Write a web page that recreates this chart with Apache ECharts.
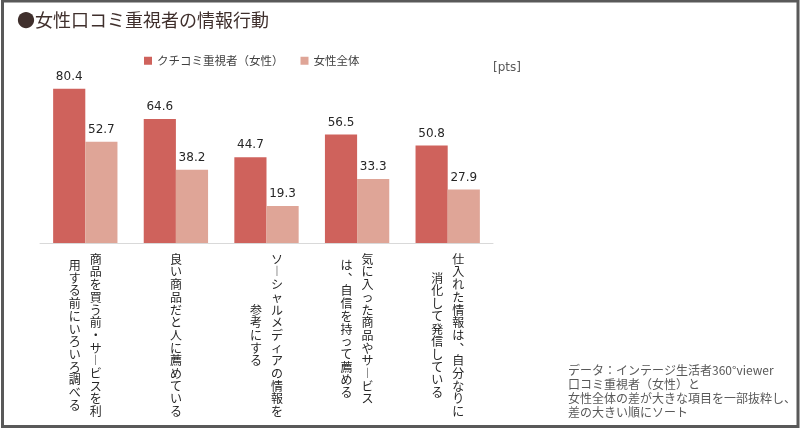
<!DOCTYPE html>
<html>
<head>
<meta charset="utf-8">
<script src="https://cdn.jsdelivr.net/npm/echarts@6/dist/echarts.min.js"></script>
<style>
  html, body { margin: 0; padding: 0; background: #fff; }
  #main { width: 800px; height: 431px; }
</style>
</head>
<body>
<div id="main"></div>
<script>
// カテゴリ（\n は縦書きの改列位置）
var categories = [
  '商品を買う前・サービスを利\n用する前にいろいろ調べる',
  '良い商品だと人に薦めている',
  'ソーシャルメディアの情報を\n参考にする',
  '気に入った商品やサービス\nは、自信を持って薦める',
  '仕入れた情報は、自分なりに\n消化して発信している'
];
var seriesNames = ['クチコミ重視者（女性）', '女性全体'];
var kuchikomi = [80.4, 64.6, 44.7, 56.5, 50.8];
var zentai = [52.7, 38.2, 19.3, 33.3, 27.9];
var noteLines = [
  'データ：インテージ生活者360°viewer',
  '口コミ重視者（女性）と',
  '女性全体の差が大きな項目を一部抜粋し、',
  '差の大きい順にソート'
];

var JP = '"Noto Sans CJK JP", "Noto Sans", sans-serif';
var RED = '#cf625c';
var PINK = '#dfa597';

// 縦書き用の字形
function vert(s) {
  return s.replace(/ー/g, '︱').replace(/、/g, '︑');
}

// 半行単位のグリッドで縦書き2列を組む
function verticalLabel(v) {
  var cols = v.split('\n').map(function (c) { return Array.from(vert(c)); });
  var n = Math.max.apply(null, cols.map(function (c) { return c.length; }));
  var pick = function (c, k) {
    var off = n - c.length;
    var i = (k - off) / 2;
    return (i >= 0 && i < c.length && i === Math.floor(i)) ? c[i] : '\u3000';
  };
  var lines = [];
  for (var k = 0; k < 2 * n; k++) {
    if (cols.length === 1) {
      lines.push('{c|' + pick(cols[0], k) + '}');
    } else {
      lines.push('{l|' + pick(cols[1], k) + '}{r|' + pick(cols[0], k) + '}');
    }
  }
  return lines.join('\n');
}

var cell = { fontSize: 12, lineHeight: 6.35, width: 21, align: 'center', fontFamily: JP, color: '#262626' };

var myChart = echarts.init(document.getElementById('main'));
myChart.setOption({
  animation: false,
  backgroundColor: '#fff',
  title: {
    text: '●女性口コミ重視者の情報行動',
    left: 12,
    top: 6,
    textStyle: { fontSize: 18, fontWeight: 'normal', color: '#3f2f2c', fontFamily: JP }
  },
  legend: {
    left: 139,
    top: 50,
    itemWidth: 8,
    itemHeight: 8,
    itemGap: 17,
    icon: 'rect',
    textStyle: { fontSize: 11.5, color: '#404040', fontFamily: JP },
    data: seriesNames
  },
  grid: { left: 40, right: 307, top: 51, bottom: 188, containLabel: false },
  xAxis: {
    type: 'category',
    data: categories,
    axisLine: { lineStyle: { color: '#d9d9d9', width: 1 } },
    axisTick: { show: false },
    axisLabel: {
      interval: 0,
      margin: 13,
      formatter: verticalLabel,
      rich: { l: cell, r: cell, c: cell }
    }
  },
  yAxis: {
    type: 'value',
    min: 0,
    max: 100,
    show: false
  },
  series: [
    {
      name: seriesNames[0],
      type: 'bar',
      data: kuchikomi,
      barGap: '0%',
      barCategoryGap: '29%',
      itemStyle: { color: RED },
      label: {
        show: true, position: 'top', distance: 6,
        fontSize: 12, color: '#262626', fontFamily: '"DejaVu Sans", sans-serif'
      }
    },
    {
      name: seriesNames[1],
      type: 'bar',
      data: zentai,
      itemStyle: { color: PINK },
      label: {
        show: true, position: 'top', distance: 6,
        fontSize: 12, color: '#262626', fontFamily: '"DejaVu Sans", sans-serif'
      }
    }
  ],
  graphic: [
    {
      type: 'rect',
      shape: { x: 2.5, y: 1, width: 795.5, height: 425.5 },
      style: { fill: 'none', stroke: '#595959', lineWidth: 3 },
      silent: true
    },
    {
      type: 'text',
      left: 493,
      top: 62,
      style: { text: '[pts]', fontSize: 12, fill: '#595959', fontFamily: '"DejaVu Sans", sans-serif' }
    },
    {
      type: 'text',
      left: 568,
      top: 363,
      style: { text: noteLines.join('\n'), fontSize: 12, lineHeight: 14, fill: '#595959', fontFamily: JP }
    }
  ]
});
</script>
</body>
</html>
